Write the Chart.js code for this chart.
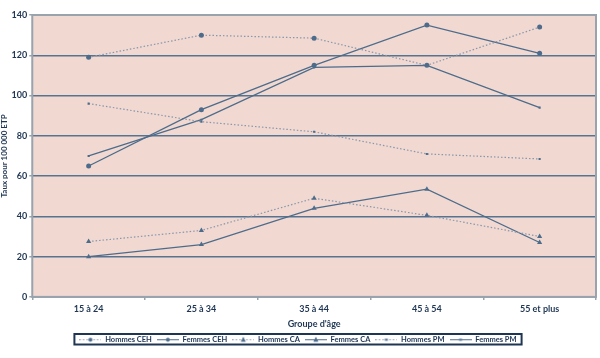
<!DOCTYPE html>
<html>
<head>
<meta charset="utf-8">
<script src="https://cdn.jsdelivr.net/npm/chart.js@4/dist/chart.umd.min.js"></script>
<style>
  body { margin: 0; background: #fff; }
  #wrap { width: 600px; height: 358px; }
</style>
</head>
<body>
<div id="wrap"><canvas id="graphique" width="600" height="358"></canvas></div>
<script>
// Données
const groupes = ["15 à 24", "25 à 34", "35 à 44", "45 à 54", "55 et plus"];
const hommesCEH = [119, 130, 128.5, 115, 134];
const femmesCEH = [65, 93, 115, 135, 121];
const hommesCA = [27.5, 33, 49, 40.5, 30];
const femmesCA = [20, 26, 44, 53.5, 27];
const hommesPM = [96, 87, 82, 71, 68.5];
const femmesPM = [70, 88, 114, 115, 94];
const ticksY = [0, 20, 40, 60, 80, 100, 120, 140];

const bleu = '#4d6c8b';
const bleuClair = '#8797ad';
const texte = '#1e3553';
const police = "Lato, 'Open Sans', sans-serif";

// petite image ligne + marqueur pour la légende
function iconeLegende(pointilles, forme) {
  const c = document.createElement('canvas');
  c.width = 22; c.height = 8;
  const g = c.getContext('2d');
  g.strokeStyle = pointilles ? bleuClair : bleu;
  g.lineWidth = 1;
  if (pointilles) g.setLineDash([1.5, 2]);
  g.beginPath(); g.moveTo(0, 4.5); g.lineTo(22, 4.5); g.stroke();
  g.fillStyle = bleu;
  if (forme === 'circle') { g.beginPath(); g.arc(11, 4.5, 2, 0, Math.PI * 2); g.fill(); }
  else if (forme === 'triangle') { g.beginPath(); g.moveTo(11, 1.5); g.lineTo(13.5, 6.5); g.lineTo(8.5, 6.5); g.closePath(); g.fill(); }
  else { g.fillRect(9.5, 3.5, 3, 2); }
  return c;
}

function serie(label, data, pointilles, forme, rayon) {
  return {
    label: label,
    data: data,
    borderColor: pointilles ? bleuClair : bleu,
    backgroundColor: bleu,
    borderWidth: pointilles ? 1.2 : 1.3,
    borderDash: pointilles ? [1.5, 2] : [],
    pointStyle: forme,
    pointRadius: rayon,
    pointBackgroundColor: bleu,
    pointBorderColor: bleu,
    pointBorderWidth: 0,
    tension: 0,
    icone: iconeLegende(pointilles, forme)
  };
}

const fondCadre = {
  id: 'fondCadre',
  beforeDraw(chart) {
    const a = chart.chartArea;
    const ctx = chart.ctx;
    ctx.save();
    ctx.fillStyle = '#f1d8d1';
    ctx.fillRect(a.left, a.top, a.right - a.left, a.bottom - a.top);
    ctx.restore();
  },
  afterDatasetsDraw(chart) {
    const a = chart.chartArea;
    const ctx = chart.ctx;
    ctx.save();
    ctx.strokeStyle = '#98a3ad';
    ctx.lineWidth = 2;
    ctx.strokeRect(a.left, a.top, a.right - a.left, a.bottom - a.top);
    ctx.restore();
  },
  afterDraw(chart) {
    const boites = chart.legend.legendHitBoxes;
    if (!boites || !boites.length) return;
    let g = Infinity, d = -Infinity, h = Infinity, b = -Infinity;
    boites.forEach(x => {
      g = Math.min(g, x.left); d = Math.max(d, x.left + x.width);
      h = Math.min(h, x.top); b = Math.max(b, x.top + x.height);
    });
    const ctx = chart.ctx;
    ctx.save();
    ctx.strokeStyle = texte;
    ctx.lineWidth = 2;
    ctx.strokeRect(g - 5, h - 1.5, d - g + 10, b - h + 3);
    ctx.restore();
  }
};

new Chart(document.getElementById('graphique'), {
  type: 'line',
  data: {
    labels: groupes,
    datasets: [
      serie('Hommes CEH', hommesCEH, true, 'circle', 2.5),
      serie('Femmes CEH', femmesCEH, false, 'circle', 2.5),
      serie('Hommes CA', hommesCA, true, 'triangle', 3),
      serie('Femmes CA', femmesCA, false, 'triangle', 3),
      serie('Hommes PM', hommesPM, true, 'rect', 1.5),
      serie('Femmes PM', femmesPM, false, 'rect', 1.5)
    ]
  },
  options: {
    responsive: false,
    animation: false,
    layout: { padding: { top: 15, right: 4, left: 0, bottom: 5 } },
    plugins: {
      tooltip: { enabled: false },
      legend: {
        position: 'bottom',
        labels: {
          usePointStyle: true,
          pointStyleWidth: 22,
          boxHeight: 8,
          padding: 5,
          color: texte,
          font: { family: police, size: 7.5, weight: 'bold' },
          generateLabels(chart) {
            return chart.data.datasets.map((ds, i) => ({
              text: ds.label,
              pointStyle: ds.icone,
              fillStyle: bleu,
              strokeStyle: bleu,
              lineWidth: 0,
              fontColor: texte,
              datasetIndex: i
            }));
          }
        }
      }
    },
    scales: {
      x: {
        offset: true,
        grid: { display: true, drawOnChartArea: false, offset: true, tickLength: 3, color: '#98a3ad', lineWidth: 1.5 },
        border: { display: false },
        ticks: { color: texte, font: { family: police, size: 9, weight: 'bold' }, padding: 4 },
        title: { display: true, text: "Groupe d'âge", color: texte, font: { family: police, size: 9, weight: 'bold' }, padding: { top: 0, bottom: 1 } }
      },
      y: {
        min: 0,
        max: 140,
        afterBuildTicks(axis) { axis.ticks = ticksY.map(v => ({ value: v })); },
        grid: { color: '#56738f', lineWidth: 1.5, tickLength: 3, tickColor: '#98a3ad' },
        border: { display: false },
        ticks: { color: texte, font: { family: police, size: 9, weight: 'bold' }, padding: 2 },
        title: { display: true, text: 'Taux pour 100 000 ETP', color: texte, font: { family: police, size: 8, weight: 'bold' }, padding: { top: 0, bottom: 0 } }
      }
    }
  },
  plugins: [fondCadre]
});
</script>
</body>
</html>
